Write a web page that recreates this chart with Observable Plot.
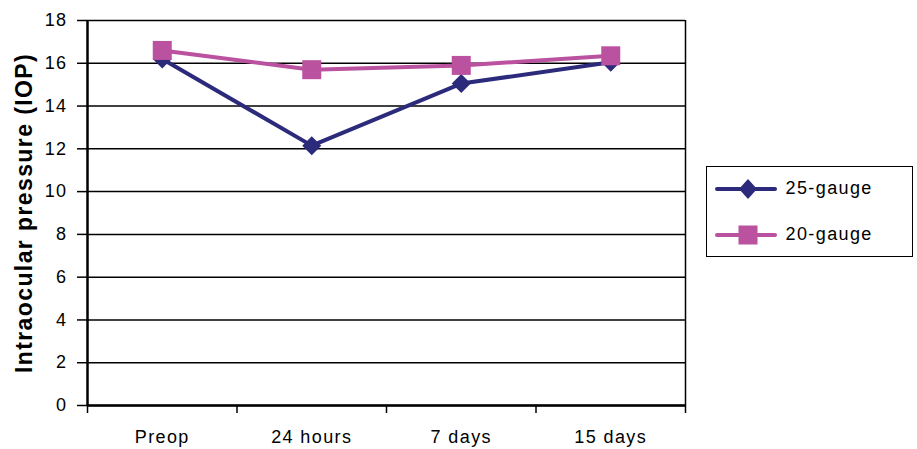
<!DOCTYPE html>
<html>
<head>
<meta charset="utf-8">
<script src="https://cdn.jsdelivr.net/npm/d3@7"></script>
<script src="https://cdn.jsdelivr.net/npm/@observablehq/plot@0.6"></script>
<style>
  html, body { margin: 0; padding: 0; background: white; }
  #wrap { position: relative; width: 917px; height: 449px; font-family: "Liberation Sans", Arial, sans-serif; }
  #wrap svg text { letter-spacing: 1.4px; }
  #legend { position: absolute; left: 706px; top: 166px; width: 205px; height: 89px; border: 1.5px solid black; background: white; }
  .item { position: absolute; left: 7.5px; height: 22px; display: flex; align-items: center; font-size: 18px; letter-spacing: 1.4px; color: black; }
  .item svg { margin-right: 9px; }
</style>
</head>
<body>
<div id="wrap"><div id="legend"></div></div>
<script>
const categories = ["Preop", "24 hours", "7 days", "15 days"];
const seriesNames = ["25-gauge", "20-gauge"];
const gauge25 = [16.2, 12.15, 15.05, 16.05];
const gauge20 = [16.6, 15.7, 15.9, 16.35];
const yTicks = [0, 2, 4, 6, 8, 10, 12, 14, 16, 18];
const colors = ["#2b2a7b", "#bb529f"];
const yTitle = "Intraocular pressure (IOP)";

const rows = [];
[gauge25, gauge20].forEach((vals, s) => vals.forEach((v, i) => rows.push({series: seriesNames[s], i, v})));
const idx = categories.map((_, i) => i);
const edges = [-0.5, ...idx.map(i => i + 0.5)];

const diamond = {draw(ctx, size) { const r = Math.sqrt(size / Math.PI); ctx.moveTo(0, -r); ctx.lineTo(r, 0); ctx.lineTo(0, r); ctx.lineTo(-r, 0); ctx.closePath(); }};
const square = {draw(ctx, size) { const r = Math.sqrt(size / Math.PI); ctx.rect(-r, -r, 2 * r, 2 * r); }};

const chart = Plot.plot({
  width: 917, height: 449,
  marginLeft: 87, marginRight: 232, marginTop: 20, marginBottom: 44,
  style: {fontFamily: "'Liberation Sans', Arial, sans-serif", fontSize: "18px", color: "black", background: "white"},
  x: {type: "linear", domain: [-0.5, categories.length - 0.5]},
  y: {domain: [0, 18]},
  marks: [
    Plot.ruleY(yTicks, {stroke: "black", strokeWidth: 1.5}),
    Plot.ruleX([edges[edges.length - 1]], {stroke: "black", strokeWidth: 1.5}),
    Plot.ruleX([-0.5], {stroke: "black", strokeWidth: 2.5}),
    Plot.ruleY([0], {stroke: "black", strokeWidth: 2.5}),
    Plot.axisY(yTicks, {tickSize: 10, tickPadding: 10, strokeWidth: 1.5, fontSize: 18, tickFormat: d => d, label: null}),
    Plot.axisX(edges, {tickSize: 8, strokeWidth: 1.5, tickFormat: () => "", label: null}),
    Plot.axisX(idx, {tickSize: 0, tickPadding: 25, fontSize: 18, tickFormat: i => categories[i], label: null}),
    Plot.text([yTitle], {frameAnchor: "left", textAnchor: "middle", rotate: -90, dx: -63, fontSize: 23, fontWeight: "bold", text: d => d}),
    Plot.line(rows.filter(d => d.series === seriesNames[0]), {x: "i", y: "v", stroke: colors[0], strokeWidth: 4}),
    Plot.line(rows.filter(d => d.series === seriesNames[1]), {x: "i", y: "v", stroke: colors[1], strokeWidth: 4}),
    Plot.dot(rows.filter(d => d.series === seriesNames[0]), {x: "i", y: "v", fill: colors[0], symbol: diamond, r: 9.5, stroke: "none"}),
    Plot.dot(rows.filter(d => d.series === seriesNames[1]), {x: "i", y: "v", fill: colors[1], symbol: square, r: 9.5, stroke: "none"})
  ]
});
document.getElementById("wrap").prepend(chart);

const legend = document.getElementById("legend");
seriesNames.forEach((name, s) => {
  const item = document.createElement("div");
  item.className = "item";
  item.style.top = (s === 0 ? 10.5 : 56.5) + "px";
  const shape = s === 0
    ? `<polygon points="33,1 42,11 33,21 24,11" fill="${colors[s]}"/>`
    : `<rect x="23.5" y="1.5" width="19" height="19" fill="${colors[s]}"/>`;
  item.innerHTML = `<svg width="62" height="22"><line x1="2" x2="60" y1="11" y2="11" stroke="${colors[s]}" stroke-width="4" stroke-linecap="round"/>${shape}</svg><span>${name}</span>`;
  legend.appendChild(item);
});
</script>
</body>
</html>
